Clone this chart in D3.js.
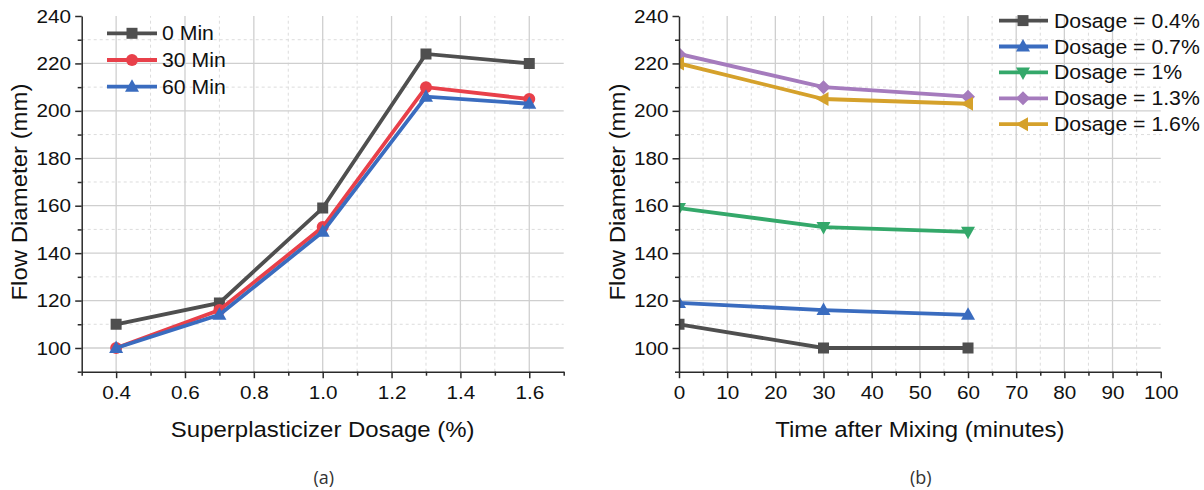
<!DOCTYPE html>
<html><head><meta charset="utf-8">
<script src="https://cdn.jsdelivr.net/npm/d3@7"></script>
<style>
html,body{margin:0;padding:0;background:#fff;}
svg{display:block;font-family:"Liberation Sans",Arial,sans-serif;}
</style></head>
<body>
<svg id="chart" width="1204" height="490"></svg>
<script>
// ---------- data ----------
const dosage = [0.4, 0.7, 1.0, 1.3, 1.6];
const times = [0, 30, 60];
const flow0min = [110, 119, 159, 224, 220];
const flow30min = [100, 116, 151, 210, 205];
const flow60min = [100, 114, 149, 206, 203];
const leftLabels = ["0 Min", "30 Min", "60 Min"];
const rightLabels = ["Dosage = 0.4%", "Dosage = 0.7%", "Dosage = 1%", "Dosage = 1.3%", "Dosage = 1.6%"];
const yTicks = [100, 120, 140, 160, 180, 200, 220, 240];
const yMinor = [90, 110, 130, 150, 170, 190, 210, 230];
const xTicksA = [0.4, 0.6, 0.8, 1.0, 1.2, 1.4, 1.6];
const xMinorA = [0.3, 0.5, 0.7, 0.9, 1.1, 1.3, 1.5, 1.7];
const xTicksB = [0, 10, 20, 30, 40, 50, 60, 70, 80, 90, 100];
const xMinorB = [5, 15, 25, 35, 45, 55, 65, 75, 85, 95];

// ---------- style ----------
const K = 1.09; // horizontal text stretch
const FONT = '"Liberation Sans", Arial, sans-serif';
const leftColors = ["#4f4f4f", "#e8404a", "#3a6cbf"];
const leftShapes = ["square", "circle", "triUp"];
const rightColors = ["#4f4f4f", "#3a6cbf", "#34a86a", "#a57bbd", "#d5a12b"];
const rightShapes = ["square", "triUp", "triDown", "diamond", "triLeft"];

const svg = d3.select("#chart");

function markerPath(shape) {
  switch (shape) {
    case "square": return "M-5.5,-5.5H5.5V5.5H-5.5Z";
    case "circle": return "M6,0A6,6 0 1,1 -6,0A6,6 0 1,1 6,0Z";
    case "triUp": return "M0,-7.5L7,5L-7,5Z";
    case "triDown": return "M0,7.5L7,-5L-7,-5Z";
    case "diamond": return "M0,-7L7,0L0,7L-7,0Z";
    case "triLeft": return "M-7.5,0L5,-7L5,7Z";
  }
}

function stretchText(g, x, y, txt, size, anchor, fill, rotate) {
  return g.append("g")
    .attr("transform", `translate(${x},${y})` + (rotate ? ` rotate(${rotate})` : "") + ` scale(${K},1)`)
    .append("text")
    .attr("font-family", FONT)
    .attr("font-size", size)
    .attr("text-anchor", anchor || "start")
    .attr("fill", fill || "#111")
    .text(txt);
}

const yScale = d3.scaleLinear().domain([90, 240]).range([371.7, 16]);

function panel(xScale, xMajor, xMinor, xFmt, series, xTitle, tag, yTitleX, clipId) {
  const g = svg.append("g");
  const [x0, x1] = xScale.range();
  const [yb, yt] = yScale.range();

  // grid
  const grid = g.append("g");
  grid.selectAll(".vmin").data(xMinor.filter(v => xScale(v) > x0 + 1 && xScale(v) < x1 - 1)).join("line")
    .attr("x1", d => xScale(d)).attr("x2", d => xScale(d)).attr("y1", yb).attr("y2", yt)
    .attr("stroke", "#dcdcdc").attr("stroke-width", 1).attr("stroke-dasharray", "3,3");
  grid.selectAll(".hmin").data(yMinor.filter(v => yScale(v) < yb - 1)).join("line")
    .attr("x1", x0).attr("x2", x1).attr("y1", d => yScale(d)).attr("y2", d => yScale(d))
    .attr("stroke", "#dcdcdc").attr("stroke-width", 1).attr("stroke-dasharray", "3,3");
  grid.selectAll(".vmaj").data(xMajor.filter(v => xScale(v) > x0 + 1 && xScale(v) < x1 - 1)).join("line")
    .attr("x1", d => xScale(d)).attr("x2", d => xScale(d)).attr("y1", yb).attr("y2", yt)
    .attr("stroke", "#cfcfcf").attr("stroke-width", 1.3);
  grid.selectAll(".hmaj").data(yTicks.filter(v => yScale(v) > yt + 1)).join("line")
    .attr("x1", x0).attr("x2", x1).attr("y1", d => yScale(d)).attr("y2", d => yScale(d))
    .attr("stroke", "#cfcfcf").attr("stroke-width", 1.3);

  // clip
  svg.append("defs").append("clipPath").attr("id", clipId)
    .append("rect").attr("x", x0).attr("y", yt - 10).attr("width", x1 - x0 + 10).attr("height", yb - yt + 10);

  const plot = g.append("g").attr("clip-path", `url(#${clipId})`);
  const line = d3.line().x(d => xScale(d[0])).y(d => yScale(d[1]));
  series.forEach(s => {
    plot.append("path").datum(s.pts).attr("d", line)
      .attr("fill", "none").attr("stroke", s.color).attr("stroke-width", 3.8).attr("stroke-linejoin", "miter");
    plot.selectAll(null).data(s.pts).join("path")
      .attr("transform", d => `translate(${xScale(d[0])},${yScale(d[1])})`)
      .attr("d", markerPath(s.shape)).attr("fill", s.color);
  });

  // axes
  const ax = g.append("g").attr("transform", `translate(0,${yb})`)
    .call(d3.axisBottom(xScale).tickValues(xMajor).tickFormat(xFmt).tickSize(6.5).tickPadding(7.5).tickSizeOuter(0));
  g.append("g").attr("transform", `translate(0,${yb})`)
    .call(d3.axisBottom(xScale).tickValues(xMinor).tickFormat("").tickSize(4).tickSizeOuter(0))
    .select(".domain").remove();
  const ay = g.append("g").attr("transform", `translate(${x0},0)`)
    .call(d3.axisLeft(yScale).tickValues(yTicks).tickSize(6.5).tickPadding(3.2).tickSizeOuter(0));
  g.append("g").attr("transform", `translate(${x0},0)`)
    .call(d3.axisLeft(yScale).tickValues(yMinor).tickFormat("").tickSize(4).tickSizeOuter(0))
    .select(".domain").remove();
  g.selectAll(".domain, .tick line").attr("stroke", "#2a2a2a").attr("stroke-width", 1.5);
  [ax, ay].forEach(a => a.selectAll("text")
    .attr("font-size", 19).attr("fill", "#111")
    .attr("font-family", FONT)
    .attr("transform", `scale(${K},1)`));
  ax.selectAll("text").attr("x", 0);

  // titles
  stretchText(g, (x0 + x1) / 2, 436.5, xTitle, 22, "middle");
  stretchText(g, yTitleX, 192, "Flow Diameter (mm)", 22, "middle", "#111", -90);
  g.append("text").attr("x", (x0 + x1) / 2 + 1).attr("y", 484)
    .attr("text-anchor", "middle").attr("font-size", 18).attr("fill", "#333")
    .attr("font-family", '"Open Sans","Noto Sans",sans-serif')
    .text(tag);
  return g;
}

// ---------- panel (a) ----------
const xA = d3.scaleLinear().domain([0.3, 1.7]).range([81.7, 563.7]);
const leftData = [flow0min, flow30min, flow60min];
const seriesA = leftData.map((vals, i) => ({
  pts: dosage.map((d, j) => [d, vals[j]]), color: leftColors[i], shape: leftShapes[i]
}));
const gA = panel(xA, xTicksA, xMinorA, d3.format(".1f"), seriesA,
  "Superplasticizer Dosage (%)", "(a)", 27, "clipA");

// legend (a)
leftLabels.forEach((lab, i) => {
  const y = 33.3 + i * 26.7;
  gA.append("line").attr("x1", 107).attr("x2", 157).attr("y1", y).attr("y2", y)
    .attr("stroke", leftColors[i]).attr("stroke-width", 3.8);
  gA.append("path").attr("transform", `translate(132,${y})`).attr("d", markerPath(leftShapes[i])).attr("fill", leftColors[i]);
  stretchText(gA, 162, y + 7, lab, 19.5, "start");
});

// ---------- panel (b) ----------
const xB = d3.scaleLinear().domain([0, 100]).range([679, 1160.7]);
const seriesB = dosage.map((d, j) => ({
  pts: times.map((t, i) => [t, leftData[i][j]]), color: rightColors[j], shape: rightShapes[j]
}));
const gB = panel(xB, xTicksB, xMinorB, d3.format("d"), seriesB,
  "Time after Mixing (minutes)", "(b)", 625, "clipB");

rightLabels.forEach((lab, i) => {
  const y = 20.6 + i * 25.9;
  gB.append("line").attr("x1", 999).attr("x2", 1048).attr("y1", y).attr("y2", y)
    .attr("stroke", rightColors[i]).attr("stroke-width", 3.8);
  gB.append("path").attr("transform", `translate(1023,${y})`).attr("d", markerPath(rightShapes[i])).attr("fill", rightColors[i]);
  stretchText(gB, 1054, y + 7, lab, 19.5, "start");
});
</script>
</body></html>
